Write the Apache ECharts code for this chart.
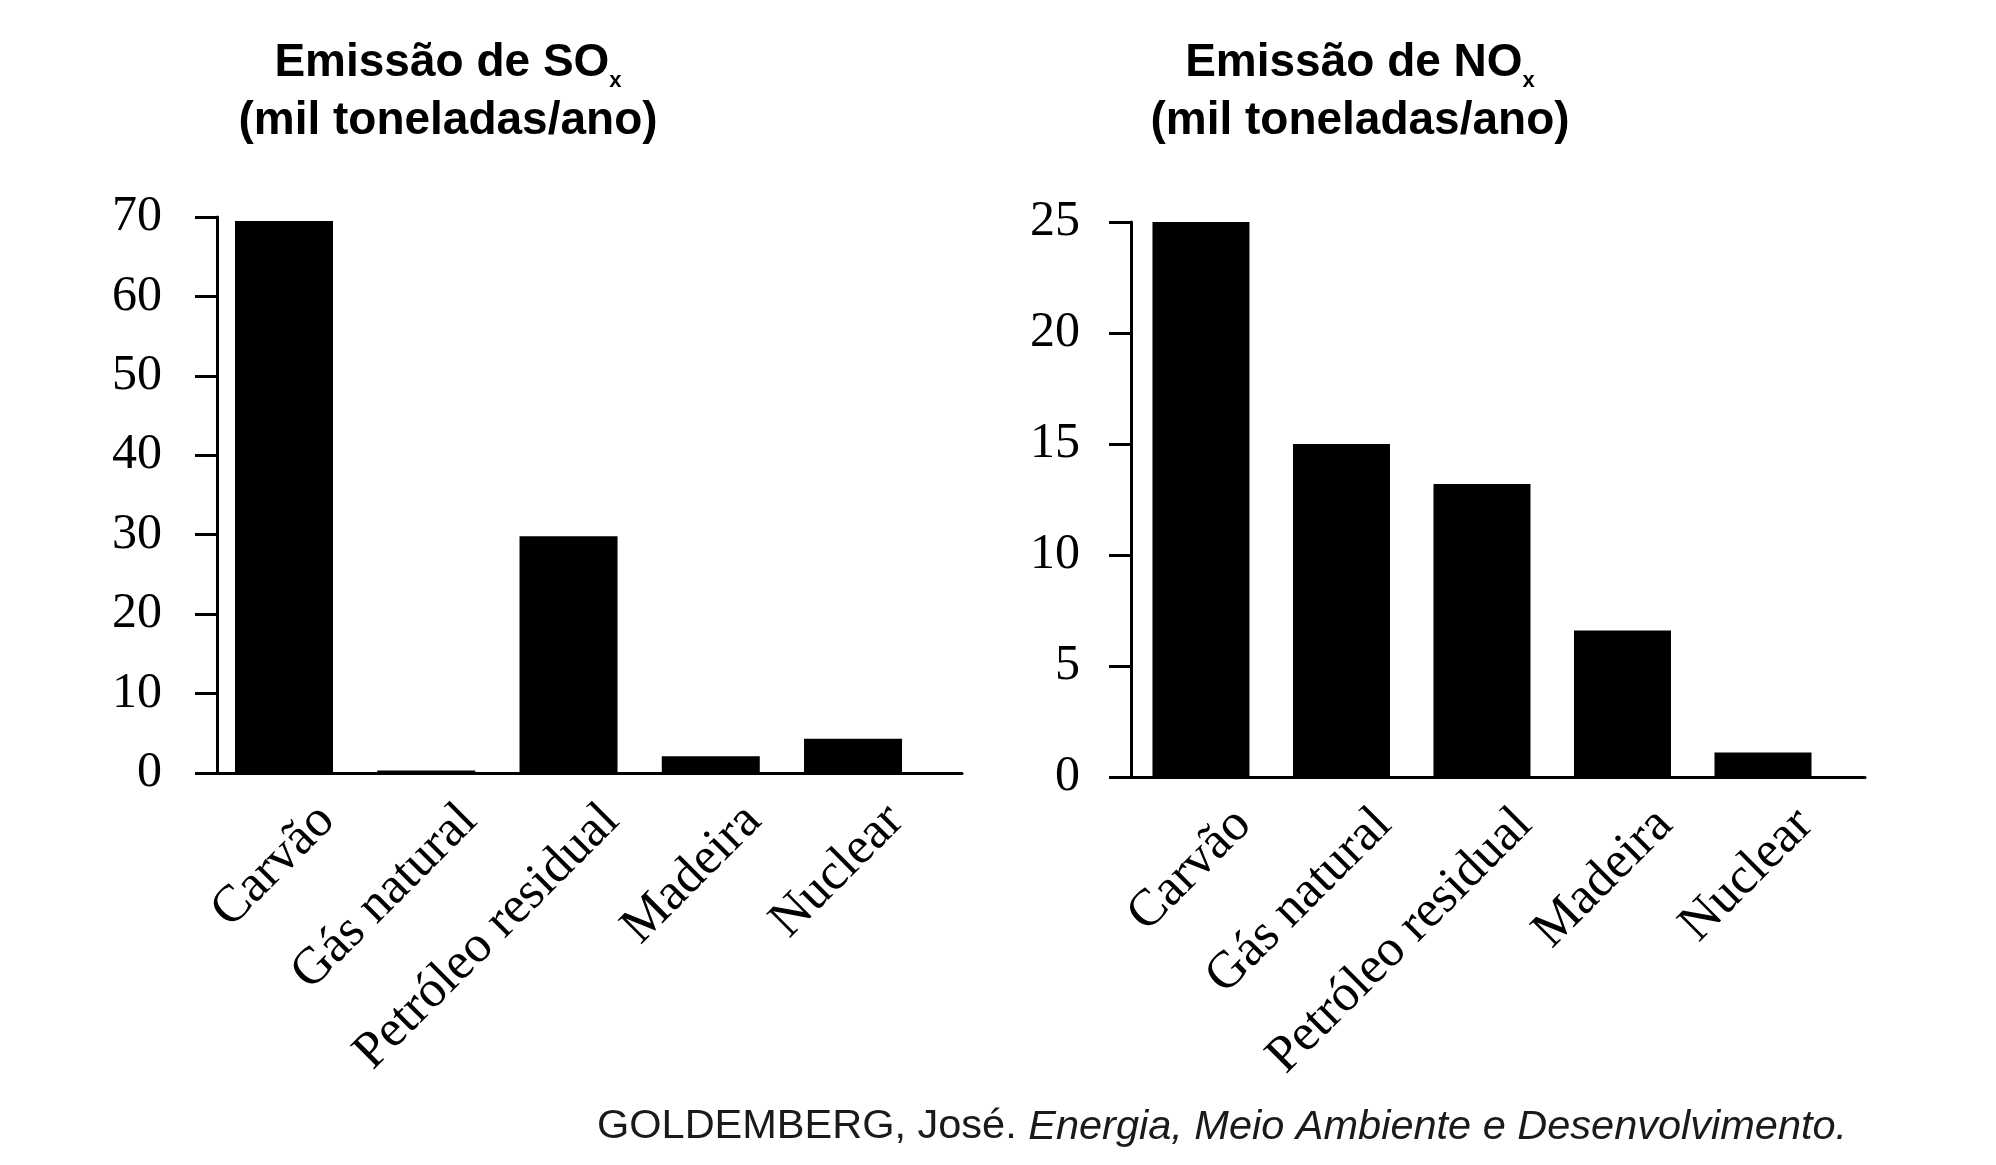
<!DOCTYPE html>
<html>
<head>
<meta charset="utf-8">
<script src="https://cdn.jsdelivr.net/npm/echarts@6/dist/echarts.min.js"></script>
<style>
html,body{margin:0;padding:0;background:#fff;}
#chart{width:1996px;height:1165px;}
</style>
</head>
<body>
<div id="chart"></div>
<script>
// ---- data ----
const categories = ['Carvão', 'Gás natural', 'Petróleo residual', 'Madeira', 'Nuclear'];
const so2Values = [69.5, 0.3, 29.8, 2.1, 4.3];
const noxValues = [25, 15, 13.2, 6.6, 1.1];
const so2Axis = { max: 70, step: 10 };
const noxAxis = { max: 25, step: 5 };
const so2Title = ['Emissão de SO', 'x', '(mil toneladas/ano)'];
const noxTitle = ['Emissão de NO', 'x', '(mil toneladas/ano)'];
const sourceParts = ['GOLDEMBERG, José. ', 'Energia, Meio Ambiente e Desenvolvimento.'];

// ---- styling ----
const serif = 'Liberation Serif';
const sans = 'Liberation Sans';
const labelShift = 0.3;

function xAxisCfg(gridIndex, min, max) {
  return {
    type: 'value', gridIndex, min, max,
    splitLine: { show: false },
    axisTick: { show: false },
    axisLine: { show: true, onZero: false, lineStyle: { color: '#000', width: 3 } },
    axisLabel: {
      customValues: categories.map((c, i) => i + labelShift),
      formatter: v => categories[Math.round(v - labelShift)] || '',
      rotate: 45, margin: 40, fontFamily: serif, fontSize: 52, color: '#000'
    }
  };
}
function yAxisCfg(gridIndex, ax, margin) {
  return {
    type: 'value', gridIndex, min: 0, max: ax.max, interval: ax.step,
    splitLine: { show: false },
    axisLine: { show: true, onZero: false, lineStyle: { color: '#000', width: 3 } },
    axisTick: { show: true, inside: false, length: 22, lineStyle: { color: '#000', width: 3 } },
    axisLabel: { margin, fontFamily: serif, fontSize: 50, color: '#000' }
  };
}
function titleGraphic(x, parts) {
  return {
    type: 'text', x, y: 34,
    style: {
      text: '{a|' + parts[0] + '}{b|' + parts[1] + '}\n{a|' + parts[2] + '}',
      align: 'center', verticalAlign: 'top',
      rich: {
        a: { fontFamily: sans, fontWeight: 'bold', fontSize: 46, lineHeight: 58, fill: '#000' },
        b: { fontFamily: sans, fontWeight: 'bold', fontSize: 22, lineHeight: 36, verticalAlign: 'bottom', fill: '#000' }
      }
    }
  };
}

const chart = echarts.init(document.getElementById('chart'), null, { renderer: 'canvas' });
chart.setOption({
  animation: false,
  backgroundColor: '#fff',
  grid: [
    { left: 217, top: 217, width: 745, height: 556 },
    { left: 1131, top: 222, width: 734, height: 555 }
  ],
  xAxis: [xAxisCfg(0, -0.471, 4.766), xAxisCfg(1, -0.498, 4.726)],
  yAxis: [yAxisCfg(0, so2Axis, 55), yAxisCfg(1, noxAxis, 51)],
  series: [
    { type: 'bar', xAxisIndex: 0, yAxisIndex: 0, barWidth: 98,
      itemStyle: { color: '#000' }, data: so2Values.map((v, i) => [i, v]) },
    { type: 'bar', xAxisIndex: 1, yAxisIndex: 1, barWidth: 97,
      itemStyle: { color: '#000' }, data: noxValues.map((v, i) => [i, v]) }
  ],
  graphic: [
    titleGraphic(448, so2Title),
    titleGraphic(1360, noxTitle),
    {
      type: 'text', x: 597, y: 1127,
      style: {
        text: '{n|' + sourceParts[0] + '}{i|' + sourceParts[1] + '}',
        align: 'left', verticalAlign: 'middle',
        rich: {
          n: { fontFamily: sans, fontSize: 41.5, fill: '#1a1a1a' },
          i: { fontFamily: sans, fontSize: 41.5, fontStyle: 'italic', fill: '#1a1a1a' }
        }
      }
    }
  ]
});
</script>
</body>
</html>
